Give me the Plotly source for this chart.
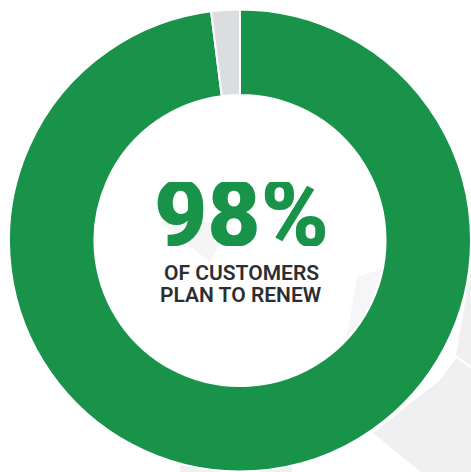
import plotly.graph_objects as go

W, H = 471, 472

labels = ["Plan to renew", "Other"]
values = [98, 2]
colors = ["#1a934a", "#dcdde0"]

headline = "98%"
subtitle_lines = ["OF CUSTOMERS", "PLAN TO RENEW"]


def px(x, y):
    return x / W, 1 - y / H


def path(points):
    pts = [px(x, y) for x, y in points]
    return "M " + " L ".join(f"{a:.4f},{b:.4f}" for a, b in pts) + " Z"


bg_shapes = [
    ([(456, 355), (471, 268), (471, 366)], "#f0f0f0"),
    ([(456, 358), (471, 369), (471, 472), (421, 472), (373, 433), (440, 380)], "#f0f0f0"),
    ([(180, 464), (292, 464), (292, 472), (180, 472)], "#f0f0f0"),
    ([(357, 277), (400, 263), (400, 350), (345, 345)], "#f6f6f6"),
    ([(160, 222), (232, 222), (210, 262)], "#f5f5f5"),
]

fig = go.Figure()
fig.add_trace(go.Pie(
    labels=labels,
    values=values,
    sort=False,
    direction="clockwise",
    rotation=0,
    hole=0.63,
    marker=dict(colors=colors, line=dict(color="white", width=2)),
    textinfo="none",
    hoverinfo="none",
    showlegend=False,
    domain=dict(x=[9 / W, 1], y=[0, 1 - 9 / H]),
))

shapes = []
for pts, col in bg_shapes:
    shapes.append(dict(type="path", path=path(pts), xref="paper", yref="paper",
                       fillcolor=col, line=dict(width=0), layer="below"))

annotations = []
hx, hy = px(241.5, 214)
annotations.append(dict(text=headline, x=hx, y=hy, xref="paper", yref="paper",
                        showarrow=False, xanchor="center", yanchor="middle",
                        height=64, valign="middle",
                        font=dict(family="Roboto", size=92, color="#1a934a", weight=900)))
for i, line in enumerate(subtitle_lines):
    sx, sy = px(241, 273 + 22 * i)
    annotations.append(dict(text=line, x=sx, y=sy, xref="paper", yref="paper",
                            showarrow=False, xanchor="center", yanchor="middle",
                            height=20, valign="middle",
                            font=dict(family="Roboto", size=21, color="#2e2e30", weight=600)))

fig.update_layout(
    width=W, height=H,
    margin=dict(l=0, r=0, t=0, b=0),
    paper_bgcolor="white",
    plot_bgcolor="white",
    shapes=shapes,
    annotations=annotations,
)

fig.write_html("out.html")
